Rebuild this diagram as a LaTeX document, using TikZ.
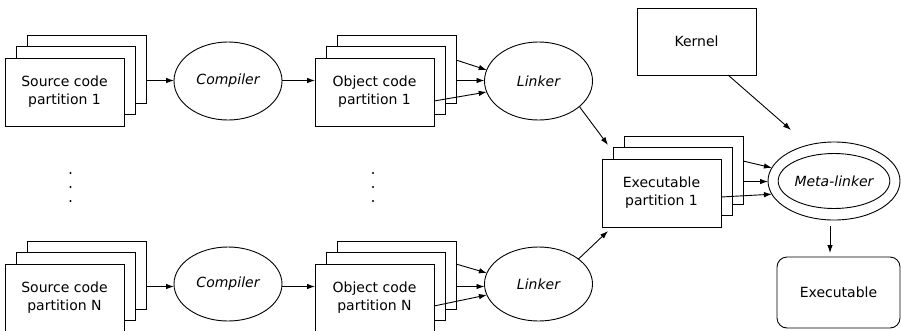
\documentclass[tikz,border=0pt]{standalone}
\usepackage{fontspec}
\setmainfont{DejaVu Sans}
\usetikzlibrary{arrows.meta,shapes.geometric}

% three stacked sheets; #1 name prefix, (#2,#3) top-left of the rear sheet, #4 label
\newcommand\pagestack[4]{%
  \node[page, anchor=north west] (#1b) at (#2,#3) {};
  \node[page, anchor=north west] (#1m) at (#2-11,#3+11.5) {};
  \node[page, anchor=north west] (#1f) at (#2-22,#3+23) {#4};
}

\begin{document}
\begin{tikzpicture}[x=1pt,y=-1pt,
  every node/.style={inner sep=0pt, outer sep=0pt},
  line width=0.9pt,
  lbl/.style={font=\fontsize{14}{18}\selectfont, align=center},
  page/.style={draw, fill=white, minimum width=119pt, minimum height=68pt, lbl},
  proc/.style={draw, fill=white, ellipse, minimum width=108pt, minimum height=78pt,
    font=\fontsize{14}{18}\selectfont\itshape},
  arr/.style={-{Latex[length=8pt,width=5.5pt]}},
  dot/.style={fill, circle, minimum size=2.4pt}]

\path[fill=white] (0,0) rectangle (901,330);
\useasboundingbox (0,0) rectangle (901,330);

% sheet stacks
\pagestack{sa}{27}{35}{Source code\\partition 1}
\pagestack{oa}{337}{35}{Object code\\partition 1}
\pagestack{sn}{27}{241}{Source code\\partition N}
\pagestack{on}{337}{241}{Object code\\partition N}
\pagestack{ex}{624}{136}{Executable\\partition 1}

% processing steps
\node[proc] (ca) at (228,81) {Compiler};
\node[proc] (la) at (538.5,81) {Linker};
\node[proc, minimum height=74pt] (cn) at (228,284) {Compiler};
\node[proc, minimum height=74pt] (ln) at (538.5,284) {Linker};
\node[proc, minimum width=132pt, minimum height=78pt] (meta) at (834,181) {};
\node[proc, minimum width=105pt, minimum height=55pt] (metai) at (834,181) {Meta-linker};

\node[page, minimum height=67pt] (kern) at (696.5,41.5) {Kernel};
\node[page, rounded corners=10pt, minimum width=123pt, minimum height=71pt] (exe) at (838.5,292.5) {Executable};

% vertical ellipses between the rows
\node[dot] (da1) at (70.5,173) {};
\node[dot] (da2) at (70.5,187) {};
\node[dot] (da3) at (70.5,201) {};
\node[dot] (db1) at (373,173) {};
\node[dot] (db2) at (373,187) {};
\node[dot] (db3) at (373,201) {};

% free ends of the angled connectors
\coordinate (ta) at (608,145);
\coordinate (tn) at (608,231);
\coordinate (tk) at (791,130);
\coordinate (mx) at (830,0);

% upper row
\draw[arr] (sab.east |- sam.east) -- (sam.east -| ca.west);
\draw[arr] (ca.east |- oam.east) -- (oam.east -| oaf.west);
\draw[arr] ([yshift=-25pt]oab.north east) -- (la.168);
\draw[arr] (oam.east -| oab.east) -- (oam.east -| la.west);
\draw[arr] ([yshift=-43pt]oaf.north east) -- (la.192);

% lower row
\draw[arr] (snb.east |- snm.east) -- (snm.east -| cn.west);
\draw[arr] (cn.east |- onm.east) -- (onm.east -| onf.west);
\draw[arr] ([yshift=-23pt]onb.north east) -- (ln.168);
\draw[arr] (onm.east -| onb.east) -- (onm.east -| ln.west);
\draw[arr] ([yshift=-42pt]onf.north east) -- (ln.192);

% linkers to executable partition
\draw[arr] (la.-32) -- (ta);
\draw[arr] (ln.32) -- (tn);

% executable partitions and kernel into the meta-linker
\draw[arr] ([yshift=-25pt]exb.north east) -- (meta.168);
\draw[arr] (exm.east -| exb.east) -- (exm.east -| meta.west);
\draw[arr] ([yshift=-38pt]exf.north east) -- (meta.192);
\draw[arr] ([xshift=31.5pt]kern.south) -- (tk);
\draw[arr, shorten <=6pt, shorten >=4pt] (meta.south -| mx) -- (exe.north -| mx);
\end{tikzpicture}
\end{document}
